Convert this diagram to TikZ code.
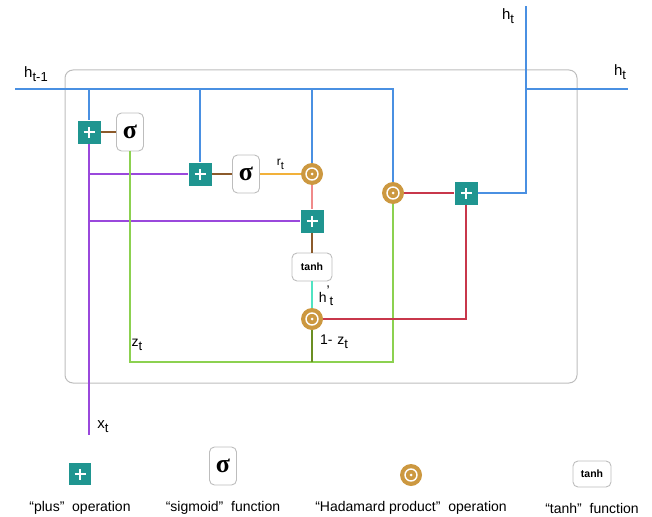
\documentclass[tikz,border=0pt]{standalone}
\usepackage{fontspec}
\setmainfont{Liberation Sans}
\newfontfamily\sigfont{Liberation Serif}
\definecolor{cteal}{HTML}{1F9590}
\definecolor{cgold}{HTML}{CC9840}
\definecolor{cblue}{HTML}{4A90E2}
\definecolor{cpurple}{HTML}{9A48DC}
\definecolor{cgreen}{HTML}{8CD150}
\definecolor{cbrown}{HTML}{8B5A2B}
\definecolor{corange}{HTML}{F2B13A}
\definecolor{cpink}{HTML}{F08A8A}
\definecolor{ccyan}{HTML}{50E3C2}
\definecolor{cdkgreen}{HTML}{6B8E23}
\definecolor{cred}{HTML}{C8374B}
\definecolor{cframe}{HTML}{BDBDBD}
\newcommand\lsub[1]{\raisebox{-0.5ex}{\fontsize{13}{13}\selectfont #1}}
\newcommand\sig{{\sigfont\bfseries σ}}
\tikzset{
  plusop/.style={rectangle, fill=cteal, minimum size=23, inner sep=0,
    path picture={\draw[white, line width=1.2pt]
      ([xshift=-5.5pt]path picture bounding box.center) -- ([xshift=5.5pt]path picture bounding box.center)
      ([yshift=-5.5pt]path picture bounding box.center) -- ([yshift=5.5pt]path picture bounding box.center);}},
  hada/.style={circle, fill=cgold, minimum size=22, inner sep=0,
    path picture={\draw[white, line width=1.4pt] (path picture bounding box.center) circle (6pt);
      \fill[white] (path picture bounding box.center) circle (1.5pt);}},
  sigbox/.style={rectangle, rounded corners=5pt, draw=cframe, line width=0.9pt, fill=white,
    minimum width=27, minimum height=38, inner sep=0, font=\fontsize{26}{26}\selectfont},
  tanhbox/.style={rectangle, rounded corners=5pt, draw=cframe, line width=0.9pt, fill=white,
    minimum width=40, minimum height=28, inner sep=0, font=\bfseries\fontsize{10.5}{11}\selectfont},
  lab/.style={inner sep=0, text=black, font=\fontsize{15}{15}\selectfont},
  leg/.style={inner sep=0, font=\fontsize{14}{14}\selectfont},
  wire/.style={line width=1.5pt},
}
\begin{document}
\begin{tikzpicture}[x=1pt,y=-1pt]
\useasboundingbox (0,0) rectangle (652,516);
\draw[cframe, line width=1pt, rounded corners=8pt] (65,70) rectangle (577,383);

% nodes
\node[plusop] (p1) at (89,132) {};
\node[sigbox] (s1) at (130,132) {\sig};
\node[plusop] (p2) at (200,174) {};
\node[sigbox] (s2) at (246,174) {\sig};
\node[hada] (h1) at (312,174) {};
\node[plusop] (p3) at (312,221) {};
\node[tanhbox] (th) at (312,267) {tanh};
\node[hada] (h3) at (312,319) {};
\node[hada] (h2) at (393,193) {};
\node[plusop] (p4) at (466,193) {};

\coordinate (in) at (15,89);
\coordinate (xt) at (89,435);
\coordinate (gb) at (130,362);
\coordinate (htop) at (526,6);
\coordinate (hright) at (628,89);

% purple input lines
\draw[wire, cpurple] (p1) -- (xt);
\draw[wire, cpurple] (p2 -| p1) -- (p2);
\draw[wire, cpurple] (p3 -| p1) -- (p3);
% blue h_{t-1}
\draw[wire, cblue] (in) -- (h2 |- in) -- (h2);
\draw[wire, cblue] (p1 |- in) -- (p1);
\draw[wire, cblue] (p2 |- in) -- (p2);
\draw[wire, cblue] (h1 |- in) -- (h1);
% gates
\draw[wire, cbrown] (p1) -- (s1);
\draw[wire, cbrown] (p2) -- (s2);
\draw[wire, corange] (s2) -- node[lab, above=4pt, font=\fontsize{12}{12}\selectfont] (rt) {r\lsub{\fontsize{11}{11}\selectfont t}} (h1);
\draw[wire, cpink] (h1) -- (p3);
\draw[wire, cbrown] (p3) -- (th);
\draw[wire, ccyan] (th) -- (h3);
% z_t
\draw[wire, cgreen] (s1) -- (s1 |- gb) -- (h2 |- gb) -- (h2);
\draw[wire, cdkgreen] (h3 |- gb) -- (h3);
% outputs
\draw[wire, cred] (h3) -- (p4 |- h3) -- (p4);
\draw[wire, cred] (h2) -- (p4);
\draw[wire, cblue] (p4) -- (htop |- p4) -- (htop);
\draw[wire, cblue] (htop |- hright) -- (hright);

% labels
\node[lab] (lht1) at (36,74) {h\lsub{t-1}};
\node[lab] (lhtt) at (508,16) {h\lsub{t}};
\node[lab] (lhtr) at (620,72) {h\lsub{t}};
\node[lab] (lxt) at (103,427) {x\lsub{t}};
\node[lab, font=\fontsize{14}{14}\selectfont] (lzt) at (137,345) {z\lsub{t}};
\node[lab, font=\fontsize{14}{14}\selectfont] (l1zt) at (334,342) {1-\,\,z\lsub{t}};
\node[lab, font=\fontsize{14}{14}\selectfont] (lhp) at (326,296) {h\raisebox{0.9ex}{\fontsize{14}{14}\selectfont '}\lsub{t}};

% legend
\node[plusop, minimum size=22] (lp) at (80,474) {};
\node[sigbox] (ls) at (223,466) {\sig};
\node[hada] (lh) at (411,475) {};
\node[tanhbox, minimum width=38, minimum height=26] (lt) at (592,474) {tanh};
\node[leg] (tp) at (80,508) {“plus”\ \ operation};
\node[leg] (ts) at (223,508) {“sigmoid”\ \ function};
\node[leg] (th2) at (411,508) {“Hadamard product”\ \ operation};
\node[leg] (tt) at (592,508) {“tanh”\ \ function};
\end{tikzpicture}
\end{document}
